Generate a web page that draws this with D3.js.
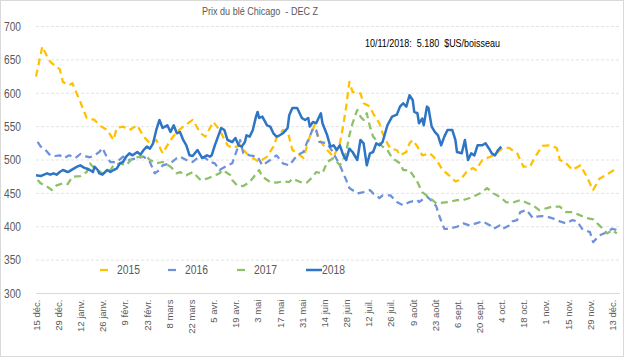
<!DOCTYPE html>
<html><head><meta charset="utf-8">
<script src="https://cdn.jsdelivr.net/npm/d3@7"></script>
<style>
html,body{margin:0;padding:0;background:#fff;}
svg{display:block;font-family:"Liberation Sans",Arial,sans-serif;}
</style></head>
<body>
<script>
// ---- DATA ----
const chartTitle = "Prix du blé Chicago  - DEC Z";
const note = "10/11/2018:  5.180  $US/boisseau";
const years = ["2015", "2016", "2017", "2018"];
const tickLabels = ["15 déc.","29 déc.","12 janv.","26 janv.","9 févr.","23 févr.","8 mars","22 mars","5 avr.","19 avr.","3 mai","17 mai","31 mai","14 juin","28 juin","12 juil.","26 juil.","9 août","23 août","6 sept.","20 sept.","4 oct.","18 oct.","1 nov.","15 nov.","29 nov.","13 déc."];
const yTicks = [300,350,400,450,500,550,600,650,700];
// [jour depuis le 15 déc., prix en cents/boisseau]
const s2015 = [[0,625],[4,670],[8,650],[10,645],[15,636],[17,617],[21,612],[23,615],[28,587],[32,563],[37,560],[40,552],[45,545],[49,530],[51,548],[55,550],[59,545],[64,552],[68,535],[72,525],[76,530],[80,510],[85,530],[89,542],[93,550],[99,560],[104,540],[107,535],[112,557],[116,545],[121,522],[124,518],[129,522],[133,510],[137,503],[141,497],[146,505],[150,520],[152,533],[156,545],[159,543],[162,515],[167,507],[169,503],[173,535],[176,552],[179,530],[184,515],[188,505],[192,525],[194,550],[196,580],[198,617],[200,602],[205,600],[207,585],[211,580],[213,570],[217,555],[219,540],[222,525],[224,517],[228,515],[230,507],[234,512],[236,525],[238,530],[241,520],[244,507],[249,510],[253,500],[257,485],[261,477],[265,468],[268,470],[272,482],[276,488],[278,485],[282,500],[287,505],[291,510],[295,518],[299,518],[304,510],[308,490],[312,490],[316,507],[320,521],[325,522],[329,518],[331,500],[335,495],[339,485],[344,492],[348,475],[352,455],[356,472],[362,480],[367,488]];
const s2016 = [[1,527],[3,520],[6,515],[9,507],[12,506],[15,507],[18,503],[21,507],[25,503],[28,509],[31,506],[34,504],[37,507],[40,512],[42,518],[45,503],[47,497],[51,497],[55,505],[59,500],[64,503],[68,505],[72,497],[75,480],[78,485],[80,492],[85,495],[89,503],[91,505],[95,500],[99,497],[102,503],[107,503],[110,497],[113,495],[116,485],[121,492],[124,495],[127,515],[129,530],[131,510],[135,507],[140,505],[143,492],[148,500],[152,507],[156,495],[160,492],[165,507],[169,512],[171,525],[173,535],[175,548],[177,545],[179,527],[184,525],[188,510],[192,492],[196,470],[198,458],[203,450],[207,452],[211,455],[213,450],[217,443],[219,447],[224,447],[228,437],[232,432],[236,437],[241,440],[242,437],[247,445],[251,437],[253,430],[255,415],[258,397],[261,397],[266,400],[270,405],[274,402],[278,405],[282,408],[287,402],[289,397],[293,402],[295,397],[299,402],[301,408],[304,410],[306,422],[310,425],[314,413],[316,415],[320,416],[323,415],[326,413],[331,408],[335,405],[339,410],[342,408],[345,397],[350,392],[352,377],[356,387],[361,392],[364,397],[367,395]];
const s2017 = [[1,470],[3,465],[7,460],[10,455],[13,462],[17,465],[20,464],[23,475],[28,476],[32,482],[34,495],[36,490],[39,485],[42,480],[45,482],[47,485],[49,492],[53,495],[57,492],[61,503],[66,505],[70,505],[72,500],[76,495],[80,497],[85,490],[89,480],[91,482],[95,477],[99,482],[104,470],[108,472],[112,476],[116,480],[118,485],[123,477],[124,470],[127,462],[131,461],[135,467],[140,482],[141,485],[143,475],[148,467],[152,466],[156,468],[160,467],[162,472],[167,467],[171,466],[175,475],[177,482],[181,480],[184,497],[188,503],[192,492],[194,500],[196,512],[198,537],[200,555],[203,575],[205,565],[207,560],[209,570],[211,550],[213,535],[215,530],[219,520],[222,515],[225,503],[230,495],[232,485],[236,485],[241,467],[244,452],[249,443],[253,435],[257,436],[261,437],[266,440],[270,440],[274,443],[278,447],[282,452],[285,458],[289,450],[293,445],[297,437],[301,436],[306,440],[310,436],[314,432],[318,425],[323,428],[326,430],[331,430],[335,422],[339,422],[344,417],[348,413],[352,411],[356,402],[361,390],[364,395],[367,390]];
const s2018 = [[0,477],[3,476],[4,477],[7,480],[9,478],[11,480],[13,478],[15,482],[17,485],[20,482],[21,483],[23,486],[26,490],[28,492],[30,489],[32,487],[34,485],[36,482],[37,490],[39,485],[40,480],[42,478],[45,485],[47,482],[49,485],[51,487],[53,495],[55,497],[57,505],[59,510],[61,507],[64,512],[66,508],[68,515],[70,520],[72,517],[74,525],[76,545],[78,560],[80,548],[83,552],[85,542],[87,552],[89,540],[91,542],[93,530],[95,522],[97,507],[99,506],[102,515],[104,507],[105,503],[108,507],[110,505],[111,507],[113,522],[115,535],[117,548],[119,545],[121,530],[124,527],[126,533],[128,522],[130,520],[132,527],[133,537],[135,535],[137,545],[139,565],[140,572],[141,563],[143,565],[146,552],[148,550],[150,540],[152,535],[154,537],[156,540],[159,548],[160,567],[162,578],[165,578],[168,563],[170,560],[172,563],[173,550],[175,557],[177,555],[180,570],[181,555],[184,537],[186,520],[188,522],[190,515],[192,522],[194,508],[196,500],[198,517],[200,512],[203,500],[205,530],[207,525],[209,492],[211,510],[213,512],[215,525],[217,522],[219,527],[222,552],[225,565],[228,568],[230,580],[232,585],[234,580],[236,597],[238,590],[239,572],[241,570],[242,555],[244,562],[245,552],[247,580],[248,578],[250,550],[252,542],[254,537],[256,522],[258,535],[260,545],[263,545],[265,530],[266,512],[269,510],[271,530],[273,500],[275,510],[277,507],[279,522],[282,522],[284,525],[286,518],[288,510],[290,507],[292,515],[294,520]];
const seriesData = [s2015, s2016, s2017, s2018];
const colors = ["#FFC000", "#6F91DA", "#8CC168", "#2E75C5"];

// ---- DRAW ----
const W = 624, H = 357;
const svg = d3.select("body").append("svg").attr("width", W).attr("height", H);
svg.append("rect").attr("x",0.5).attr("y",0.5).attr("width",W-1).attr("height",H-1)
  .attr("fill","#fff").attr("stroke","#d9d9d9");

const x = d3.scaleLinear().domain([0, 369]).range([36, 620]);
const y = d3.scaleLinear().domain([300, 700]).range([293.5, 26.5]);

// gridlines
svg.append("g").selectAll("line").data(yTicks.filter(v => v > 300)).join("line")
  .attr("x1", 36).attr("x2", 620).attr("y1", d => y(d)).attr("y2", d => y(d))
  .attr("stroke", "#e4e4e4").attr("stroke-dasharray", "3,2");
svg.append("line").attr("x1",36).attr("x2",620).attr("y1",y(300)).attr("y2",y(300))
  .attr("stroke","#d9d9d9");

// y axis labels
const yAxis = d3.axisLeft(y).tickValues(yTicks).tickSize(0).tickPadding(0);
const gy = svg.append("g").attr("transform","translate(21,0)").call(yAxis);
gy.select(".domain").remove();
gy.selectAll("text").attr("font-size", "12px").attr("fill", "#595959")
  .attr("font-family", "'Liberation Sans',Arial,sans-serif")
  .attr("textLength", 17).attr("lengthAdjust", "spacingAndGlyphs");

// x axis labels
const xTickDays = tickLabels.map((_, i) => i * 14);
const xAxis = d3.axisBottom(x).tickValues(xTickDays).tickFormat((d, i) => tickLabels[i]).tickSize(0);
const gx = svg.append("g").attr("transform", `translate(0,${y(300)})`).call(xAxis);
gx.select(".domain").remove();
gx.selectAll("text")
  .attr("font-size", "9.5px").attr("fill", "#595959")
  .attr("font-family", "'Liberation Sans',Arial,sans-serif")
  .attr("text-anchor", "end")
  .attr("transform", "rotate(-90)")
  .attr("x", -6).attr("y", 0).attr("dy", "0.35em");

// lines
const line = d3.line().x(d => x(d[0])).y(d => y(d[1]));
seriesData.forEach((s, i) => {
  const p = svg.append("path").datum(s).attr("d", line)
    .attr("fill", "none").attr("stroke", colors[i])
    .attr("stroke-linejoin", "round");
  if (i < 3) p.attr("stroke-width", 2.25).attr("stroke-dasharray", "7,4.5");
  else p.attr("stroke-width", 2.5);
});

// title & note
svg.append("text").attr("x", 202).attr("y", 15).attr("text-anchor", "start")
  .attr("font-size", "11px").attr("fill", "#595959").style("white-space","pre")
  .attr("textLength", 116).attr("lengthAdjust", "spacingAndGlyphs")
  .text(chartTitle);
svg.append("text").attr("x", 365).attr("y", 47).attr("text-anchor", "start")
  .attr("font-size", "11px").attr("fill", "#000").style("white-space","pre")
  .attr("textLength", 135).attr("lengthAdjust", "spacingAndGlyphs")
  .text(note);

// legend
const legendX = [100, 168, 237, 306];
const lg = svg.append("g").selectAll("g").data(years).join("g")
  .attr("transform", (d, i) => `translate(${legendX[i]},270)`);
lg.append("line").attr("x1", 0).attr("x2", (d, i) => i < 3 ? 8 : 16)
  .attr("stroke", (d, i) => colors[i]).attr("stroke-width", (d, i) => i < 3 ? 2.25 : 2.5);
lg.append("text").attr("x", (d, i) => i < 3 ? 17 : 16).attr("dy", "0.35em")
  .attr("font-size", "12px").attr("fill", "#595959")
  .attr("textLength", 23).attr("lengthAdjust", "spacingAndGlyphs").text(d => d);
</script>
</body></html>
